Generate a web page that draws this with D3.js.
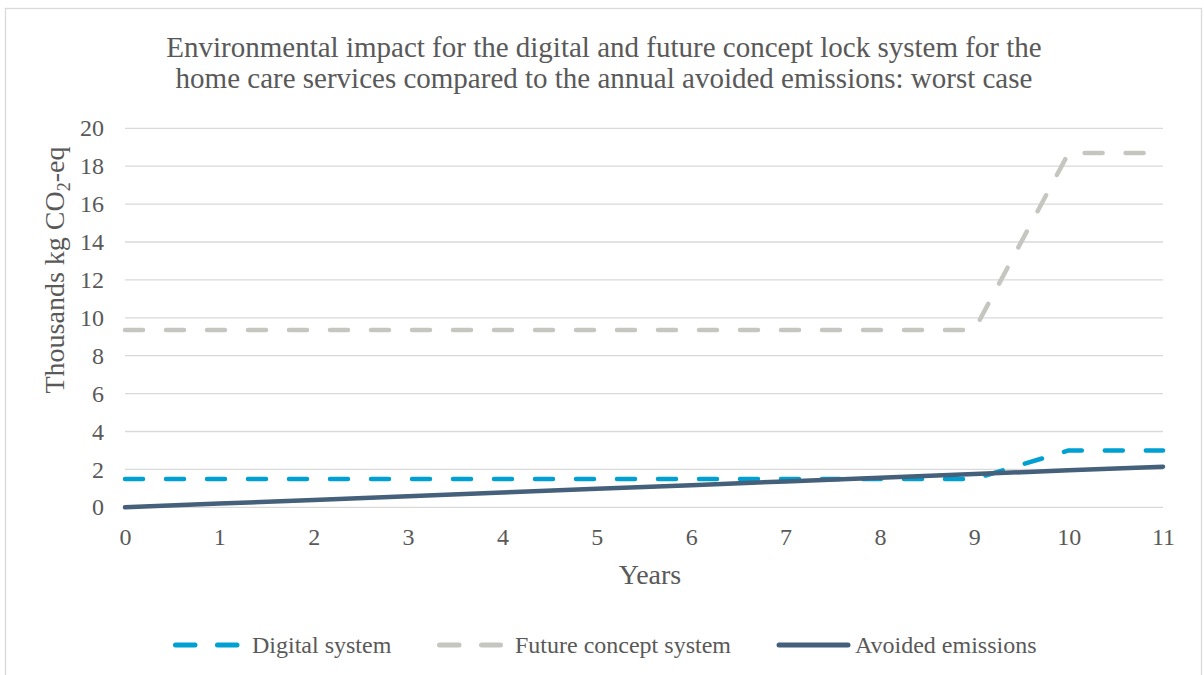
<!DOCTYPE html>
<html>
<head>
<meta charset="utf-8">
<script src="https://cdn.jsdelivr.net/npm/d3@7"></script>
<style>
  html, body { margin: 0; padding: 0; background: #fff; }
  svg { display: block; }
  text { font-family: "Liberation Serif", "Times New Roman", serif; fill: #595959; }
</style>
</head>
<body>
<svg id="chart" width="1204" height="675"></svg>
<script>
// Years on the horizontal axis
const years = [0, 1, 2, 3, 4, 5, 6, 7, 8, 9, 10, 11];
// Thousands kg CO2-eq per year
const digitalSystem = [1.5, 1.5, 1.5, 1.5, 1.5, 1.5, 1.5, 1.5, 1.5, 1.5, 3.0, 3.0];
const futureConceptSystem = [9.35, 9.35, 9.35, 9.35, 9.35, 9.35, 9.35, 9.35, 9.35, 9.35, 18.7, 18.7];
const avoidedEmissions = [0, 0.195, 0.39, 0.585, 0.78, 0.975, 1.17, 1.365, 1.56, 1.755, 1.95, 2.145];
const yTicks = [0, 2, 4, 6, 8, 10, 12, 14, 16, 18, 20];

const titleLines = [
  "Environmental impact for the digital and future concept lock system for the",
  "home care services compared to the annual avoided emissions: worst case"
];

const series = [
  { name: "Digital system", values: digitalSystem, color: "#00A0D2", dashed: true },
  { name: "Future concept system", values: futureConceptSystem, color: "#C6C6C0", dashed: true },
  { name: "Avoided emissions", values: avoidedEmissions, color: "#44607A", dashed: false }
];

const svg = d3.select("#chart");
const W = 1204, H = 675;
const plot = { left: 125, right: 1163, top: 128.3, bottom: 507.3 };

// chart frame
svg.append("rect")
  .attr("x", 5.5).attr("y", 8.5)
  .attr("width", W - 8).attr("height", H)
  .attr("fill", "#fff").attr("stroke", "#D9D9D9").attr("stroke-width", 1.3);

const x = d3.scaleLinear().domain([0, 11]).range([plot.left, plot.right]);
const y = d3.scaleLinear().domain([0, 20]).range([plot.bottom, plot.top]);

// title
svg.append("g").selectAll("text").data(titleLines).join("text")
  .attr("x", 604).attr("y", (d, i) => 56.7 + i * 31.6)
  .attr("text-anchor", "middle")
  .attr("font-size", 29)
  .text(d => d);

// gridlines
svg.append("g").selectAll("line").data(yTicks).join("line")
  .attr("x1", plot.left).attr("x2", plot.right)
  .attr("y1", d => y(d)).attr("y2", d => y(d))
  .attr("stroke", "#D9D9D9").attr("stroke-width", 1.3);

// y axis labels
const yAxis = d3.axisLeft(y).tickValues(yTicks).tickSize(0).tickPadding(21);
const gy = svg.append("g").attr("transform", `translate(${plot.left},0)`).call(yAxis);
gy.select(".domain").remove();
gy.selectAll("text").attr("font-size", 24).attr("font-family", null).attr("fill", "#595959");

// x axis labels
const xAxis = d3.axisBottom(x).tickValues(years).tickSize(0).tickPadding(20.5);
const gx = svg.append("g").attr("transform", `translate(0,${plot.bottom})`).call(xAxis);
gx.select(".domain").remove();
gx.selectAll("text").attr("font-size", 24).attr("font-family", null).attr("fill", "#595959");

// axis titles
svg.append("text")
  .attr("x", 650).attr("y", 584)
  .attr("text-anchor", "middle").attr("font-size", 28)
  .text("Years");

const yt = svg.append("text")
  .attr("transform", "translate(64,270) rotate(-90)")
  .attr("text-anchor", "middle").attr("font-size", 28);
yt.append("tspan").text("Thousands kg CO");
yt.append("tspan").attr("font-size", 18).attr("dy", 6).text("2");
yt.append("tspan").attr("dy", -6).text("-eq");

// series lines
const line = d3.line().x((d, i) => x(years[i])).y(d => y(d));
const dash = "18 23";
svg.append("g").selectAll("path").data(series).join("path")
  .attr("d", d => line(d.values))
  .attr("fill", "none")
  .attr("stroke", d => d.color)
  .attr("stroke-width", 4.5)
  .attr("stroke-linecap", "round")
  .attr("stroke-linejoin", "round")
  .attr("stroke-dasharray", d => d.dashed ? dash : null);

// legend
const legendItems = [
  { s: series[0], x0: 175.5, x1: 237.5, tx: 252 },
  { s: series[1], x0: 439.5, x1: 500.5, tx: 515 },
  { s: series[2], x0: 779, x1: 848, tx: 855 }
];
const lg = svg.append("g");
legendItems.forEach(it => {
  lg.append("line")
    .attr("x1", it.x0).attr("x2", it.x1).attr("y1", 645).attr("y2", 645)
    .attr("stroke", it.s.color).attr("stroke-width", 5)
    .attr("stroke-linecap", "round")
    .attr("stroke-dasharray", it.s.dashed ? "19.5 22.5" : null);
  lg.append("text")
    .attr("x", it.tx).attr("y", 652.7)
    .attr("font-size", 24)
    .text(it.s.name);
});
</script>
</body>
</html>
